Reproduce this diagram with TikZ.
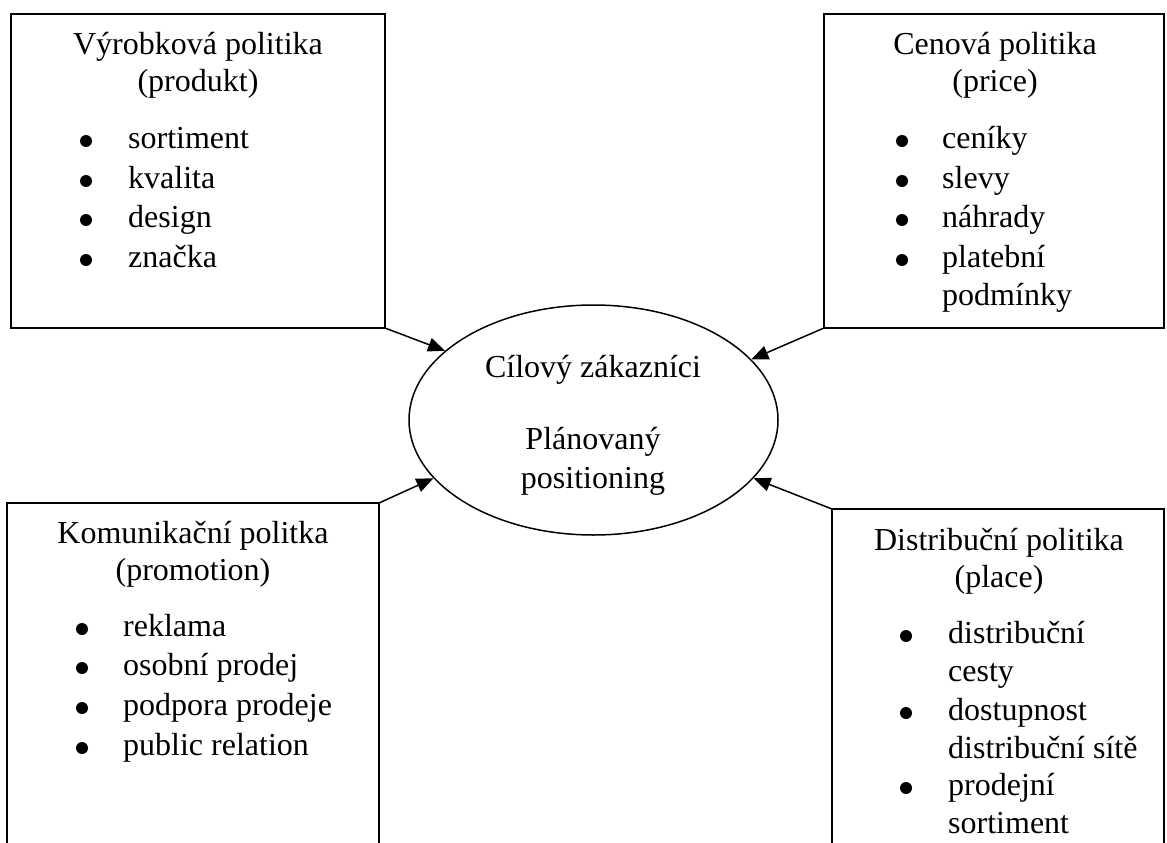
\documentclass[tikz,border=0pt]{standalone}
\usepackage{fontspec}
\setmainfont{Liberation Serif}
\usetikzlibrary{shapes.geometric,arrows.meta}
\begin{document}
\begin{tikzpicture}[x=1pt,y=-1pt,
  panel/.style={draw,line width=1.5pt,rectangle,inner sep=0pt,outer sep=0pt,anchor=north west},
  txt/.style={font=\fontsize{32}{39}\selectfont,inner sep=0pt,anchor=base},
  item/.style={txt,anchor=base west},
  dot/.style={circle,fill,inner sep=0pt,minimum size=12pt},
  link/.style={line width=1.5pt,-{Triangle[length=17pt,width=14pt]}}]
\useasboundingbox (0,0) rectangle (1167,843);
\clip (0,0) rectangle (1167,843);

% the four marketing-mix panels
\node[panel,minimum width=374pt,minimum height=314pt] (b1) at (11,14) {};
\node[panel,minimum width=340pt,minimum height=314pt] (b2) at (824,14) {};
\node[panel,minimum width=372pt,minimum height=400pt] (b3) at (7,503) {};
\node[panel,minimum width=332pt,minimum height=400pt] (b4) at (832,509) {};

% central ellipse
\node[ellipse,draw,line width=1.5pt,inner sep=0pt,minimum width=369pt,minimum height=230pt] (ell) at (593.5,420) {};
\node[txt] (c1) at (593,377) {Cílový zákazníci};
\node[txt] (c2) at (593,449) {Plánovaný};
\node[txt] (c3) at (593,488) {positioning};

% product
\node[txt] (t1a) at (198,55) {Výrobková politika};
\node[txt] (t1b) at (198,92) {(produkt)};
\foreach \t/\y [count=\i] in {sortiment/148,kvalita/188,design/227,značka/267}{
  \node[dot] (d1\i) at (86,\y-7) {};
  \node[item] (i1\i) at (128,\y) {\t};
}

% price
\node[txt] (t2a) at (995,55) {Cenová politika};
\node[txt] (t2b) at (995,92) {(price)};
\foreach \t/\y [count=\i] in {ceníky/148,slevy/188,náhrady/227,platební/267}{
  \node[dot] (d2\i) at (902,\y-7) {};
  \node[item] (i2\i) at (942,\y) {\t};
}
\node[item] (i25) at (942,305) {podmínky};

% promotion
\node[txt] (t3a) at (193,543) {Komunikační politka};
\node[txt] (t3b) at (193,580) {(promotion)};
\foreach \t/\y [count=\i] in {reklama/636,osobní prodej/675,podpora prodeje/715,public relation/755}{
  \node[dot] (d3\i) at (82,\y-7) {};
  \node[item] (i3\i) at (123,\y) {\t};
}

% place
\node[txt] (t4a) at (999,550) {Distribuční politika};
\node[txt] (t4b) at (999,587) {(place)};
\foreach \t/\y [count=\i] in {distribuční/643,dostupnost/720,prodejní/795}{
  \node[dot] (d4\i) at (906,\y-7) {};
  \node[item] (i4\i) at (948,\y) {\t};
}
\node[item] (i4a) at (948,681) {cesty};
\node[item] (i4b) at (948,758) {distribuční sítě};
\node[item] (i4c) at (948,833) {sortiment};

% connectors into the ellipse
\draw[link] (b1.south east) -- (ell.155);
\draw[link] (b2.south west) -- (ell.21);
\draw[link] (b3.north east) -- (ell.200);
\draw[link] (b4.north west) -- (ell.340);
\end{tikzpicture}
\end{document}
